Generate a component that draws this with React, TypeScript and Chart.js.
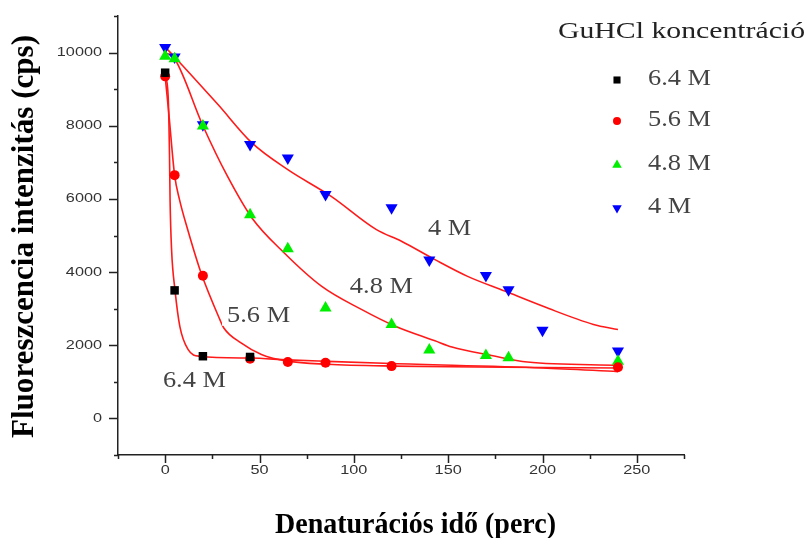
import React, { useEffect, useRef } from 'react';
import { Chart, registerables } from 'chart.js';
import { drawPoint } from 'chart.js/helpers';

Chart.register(...registerables);

// ---- measured data (time in minutes, intensity in cps) ----
const seriesNames = ['6.4 M', '5.6 M', '4.8 M', '4 M'];

const t64 = [0, 5, 20, 45];
const i64 = [9450, 3500, 1700, 1680];

const t56 = [0, 5, 20, 45, 65, 85, 120, 240];
const i56 = [9350, 6650, 3900, 1630, 1540, 1520, 1430, 1400];

const t48 = [0, 5, 20, 45, 65, 85, 120, 140, 170, 182, 240];
const i48 = [9900, 9830, 7990, 5570, 4640, 3020, 2570, 1870, 1720, 1660, 1560];

const t4 = [0, 5, 20, 45, 65, 85, 120, 140, 170, 182, 200, 240];
const i4 = [10140, 9880, 8030, 7490, 7120, 6120, 5760, 4330, 3910, 3520, 2410, 1840];

// ---- fitted curves ----
const fit64x = [0, 1.6, 2.3, 2.6, 3.4, 5.2, 7.8, 12.2, 18.4, 45, 65, 86, 120, 200, 240];
const fit64y = [9400, 8790, 7200, 5970, 4610, 3515, 2510, 1880, 1700, 1650, 1600, 1560, 1500, 1380, 1280];

const fit56x = [0, 2, 5, 7.6, 12, 19, 29, 31, 40, 51, 65, 86, 121, 180, 240];
const fit56y = [9350, 8300, 6650, 5980, 5150, 3980, 2700, 2480, 2070, 1750, 1565, 1480, 1430, 1400, 1380];

const fit48x = [0, 5, 20, 33, 46, 63, 83, 104, 122, 143, 152, 173, 192, 241];
const fit48y = [10000, 9830, 8000, 6620, 5480, 4530, 3610, 2980, 2520, 2120, 1950, 1720, 1540, 1450];

const fit4x = [0, 5, 15, 28, 46, 65, 88, 112, 125, 143, 160, 180, 201, 227, 240];
const fit4y = [10150, 9880, 9320, 8580, 7530, 6800, 6070, 5160, 4850, 4340, 3890, 3480, 3050, 2570, 2430];

// ---- in-plot labels (data coordinates of left/baseline anchor) ----
const labelTexts = ['4 M', '4.8 M', '5.6 M', '6.4 M'];
const labelX = [139.3, 97.9, 32.8, -1.2];
const labelY = [5020, 3434, 2642, 866];

// ---- axes ----
const xMin = -25, xMax = 275;
const yMin = -1000, yMax = 11000;
const xMajorTicks = [0, 50, 100, 150, 200, 250];
const xMinorTicks = [-25, 25, 75, 125, 175, 225, 275];
const yMajorTicks = [0, 2000, 4000, 6000, 8000, 10000];
const yMinorTicks = [-1000, 1000, 3000, 5000, 7000, 9000, 11000];

const xTitle = 'Denaturációs idő (perc)';
const yTitle = 'Fluoreszcencia intenzitás (cps)';
const legendTitle = 'GuHCl koncentráció';

const colors = ['#000000', '#ff0000', '#00ee00', '#0000ff'];
const styles = ['rect', 'circle', 'triangle', 'triangle'];
const rotations = [0, 0, 0, 180];
const radii = [6, 5, 7, 7];
const legendRadii = [5, 4, 5.5, 5.5];

const pts = (xs: number[], ys: number[]) => xs.map((x, i) => ({ x, y: ys[i] }));

function drawScaledText(
  ctx: CanvasRenderingContext2D, text: string, x: number, y: number,
  font: string, color: string, align: CanvasTextAlign, baseline: CanvasTextBaseline, sx: number
) {
  ctx.save();
  ctx.font = font;
  ctx.fillStyle = color;
  ctx.textAlign = align;
  ctx.textBaseline = baseline;
  ctx.translate(x, y);
  ctx.scale(sx, 1);
  ctx.fillText(text, 0, 0);
  ctx.restore();
}

function fitScale(ctx: CanvasRenderingContext2D, text: string, font: string, target: number) {
  ctx.save();
  ctx.font = font;
  const w = ctx.measureText(text).width;
  ctx.restore();
  return target / w;
}

const decorPlugin = {
  id: 'decor',
  afterDatasetsDraw(chart: any) {
    const ctx: CanvasRenderingContext2D = chart.ctx;
    const xs = chart.scales.x;
    const ys = chart.scales.y;
    // in-plot labels with white backing
    const lf = '24px "Liberation Serif", "Times New Roman", serif';
    labelTexts.forEach((t, i) => {
      const px = xs.getPixelForValue(labelX[i]);
      const py = ys.getPixelForValue(labelY[i]);
      ctx.save();
      ctx.font = lf;
      const w = ctx.measureText(t).width * 1.1;
      ctx.fillStyle = '#ffffff';
      ctx.fillRect(px - 5, py - 20, w + 8, 24);
      ctx.restore();
      drawScaledText(ctx, t, px, py, lf, '#444444', 'left', 'alphabetic', 1.1);
    });
  },
  afterDraw(chart: any) {
    const ctx: CanvasRenderingContext2D = chart.ctx;
    const xs = chart.scales.x;
    const ys = chart.scales.y;
    const a = chart.chartArea;
    ctx.save();
    ctx.strokeStyle = '#222222';
    ctx.lineWidth = 1.5;
    ctx.beginPath();
    xMajorTicks.forEach(v => { const p = Math.round(xs.getPixelForValue(v)) + 0.5; ctx.moveTo(p, a.bottom); ctx.lineTo(p, a.bottom + 8); });
    xMinorTicks.forEach(v => { const p = Math.round(xs.getPixelForValue(v)) + 0.5; ctx.moveTo(p, a.bottom); ctx.lineTo(p, a.bottom + 4); });
    yMajorTicks.forEach(v => { const p = Math.round(ys.getPixelForValue(v)) + 0.5; ctx.moveTo(a.left, p); ctx.lineTo(a.left - 9, p); });
    yMinorTicks.forEach(v => { const p = Math.round(ys.getPixelForValue(v)) + 0.5; ctx.moveTo(a.left, p); ctx.lineTo(a.left - 4, p); });
    ctx.stroke();
    ctx.restore();

    const tf = '13px "Liberation Sans", Arial, sans-serif';
    xMajorTicks.forEach(v => {
      drawScaledText(ctx, String(v), xs.getPixelForValue(v), a.bottom + 15, tf, '#333333', 'center', 'middle', 1.25);
    });
    yMajorTicks.forEach(v => {
      drawScaledText(ctx, String(v), a.left - 16, ys.getPixelForValue(v), tf, '#333333', 'right', 'middle', 1.25);
    });

    // axis titles
    const xf = 'bold 30px "Liberation Serif", "Times New Roman", serif';
    drawScaledText(ctx, xTitle, 415.5, 533, xf, '#000000', 'center', 'alphabetic', fitScale(ctx, xTitle, xf, 281));
    const yf = 'bold 31px "Liberation Serif", "Times New Roman", serif';
    const ysx = fitScale(ctx, yTitle, yf, 403);
    ctx.save();
    ctx.translate(33, 236.5);
    ctx.rotate(-Math.PI / 2);
    drawScaledText(ctx, yTitle, 0, 0, yf, '#000000', 'center', 'alphabetic', ysx);
    ctx.restore();

    // legend
    const gf = '23px "Liberation Serif", "Times New Roman", serif';
    drawScaledText(ctx, legendTitle, 681.5, 38, gf, '#222222', 'center', 'alphabetic', fitScale(ctx, legendTitle, gf, 247));
    const rowBase = [85, 126, 170, 213];
    const lf = '24px "Liberation Serif", "Times New Roman", serif';
    seriesNames.forEach((n, i) => {
      ctx.save();
      ctx.fillStyle = colors[i];
      ctx.strokeStyle = colors[i];
      drawPoint(ctx, { pointStyle: styles[i] as any, radius: legendRadii[i], rotation: rotations[i], borderWidth: 0 } as any, 617, rowBase[i] - 5);
      ctx.restore();
      drawScaledText(ctx, n, 648, rowBase[i], lf, '#444444', 'left', 'alphabetic', 1.1);
    });
  },
};

export default function App() {
  const ref = useRef<HTMLCanvasElement>(null);
  useEffect(() => {
    document.body.style.margin = '0';
    const markerSets = [pts(t64, i64), pts(t56, i56), pts(t48, i48), pts(t4, i4)];
    const fitSets = [pts(fit64x, fit64y), pts(fit56x, fit56y), pts(fit48x, fit48y), pts(fit4x, fit4y)];
    const datasets: any[] = [];
    markerSets.forEach((d, i) => {
      datasets.push({
        label: seriesNames[i],
        data: d,
        showLine: false,
        pointStyle: styles[i],
        pointRotation: rotations[i],
        pointRadius: radii[i],
        pointBackgroundColor: colors[i],
        pointBorderColor: colors[i],
        pointBorderWidth: 0,
      });
    });
    fitSets.forEach((d, i) => {
      datasets.push({
        label: 'fit ' + seriesNames[i],
        data: d,
        showLine: true,
        pointRadius: 0,
        borderColor: '#ff1a1a',
        borderWidth: 1.6,
        cubicInterpolationMode: 'monotone',
        fill: false,
      });
    });
    const chart = new Chart(ref.current!, {
      type: 'scatter',
      data: { datasets },
      options: {
        responsive: false,
        animation: false,
        devicePixelRatio: 1,
        layout: { padding: { left: 0, top: 16, right: 124, bottom: 0 } },
        plugins: { legend: { display: false }, tooltip: { enabled: false } },
        scales: {
          x: {
            type: 'linear', min: xMin, max: xMax,
            ticks: { display: false },
            grid: { display: false },
            border: { display: true, color: '#222222', width: 1.5 },
            afterFit: (s: any) => { s.height = 83; },
          },
          y: {
            type: 'linear', min: yMin, max: yMax,
            ticks: { display: false },
            grid: { display: false },
            border: { display: true, color: '#222222', width: 1.5 },
            afterFit: (s: any) => { s.width = 118; },
          },
        },
      },
      plugins: [decorPlugin],
    });
    return () => chart.destroy();
  }, []);
  return (
    <div style={{ width: 808, height: 538 }}>
      <canvas ref={ref} width={808} height={538} style={{ display: 'block' }} />
    </div>
  );
}
